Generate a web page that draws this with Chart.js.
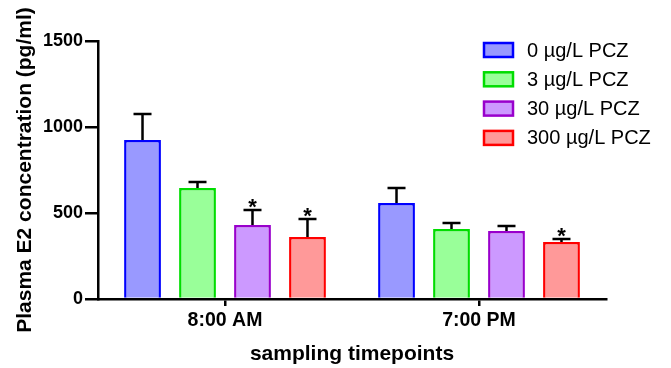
<!DOCTYPE html>
<html>
<head>
<meta charset="utf-8">
<script src="https://cdn.jsdelivr.net/npm/chart.js@4/dist/chart.umd.min.js"></script>
<style>
  body { margin: 0; background: #fff; }
  #wrap { width: 671px; height: 368px; }
</style>
</head>
<body>
<div id="wrap"><canvas id="chart" width="671" height="368"></canvas></div>
<script>
// data
const timepoints = ["8:00 AM", "7:00 PM"];
const doseLabels = ["0 µg/L PCZ", "3 µg/L PCZ", "30 µg/L PCZ", "300 µg/L PCZ"];
const dose0 = [924, 558];
const dose3 = [645, 407];
const dose30 = [430, 395];
const dose300 = [360, 331];
const dose0Err = [151, 87];
const dose3Err = [35, 35];
const dose30Err = [87, 29];
const dose300Err = [105, 18];
const dose0Sig = ["", ""];
const dose3Sig = ["", ""];
const dose30Sig = ["*", ""];
const dose300Sig = ["*", "*"];
const yTicks = [0, 500, 1000, 1500];

const fills = ["#9999ff", "#99ff99", "#cc99ff", "#ff9999"];
const borders = ["#0000ff", "#00dd00", "#9900cc", "#ff0000"];
const values = [dose0, dose3, dose30, dose300];
const errs = [dose0Err, dose3Err, dose30Err, dose300Err];
const sigs = [dose0Sig, dose3Sig, dose30Sig, dose300Sig];

Chart.defaults.font.family = "'Liberation Sans', Arial, sans-serif";
Chart.defaults.color = "#000";

// error bars + asterisks on top of the bars
const errorBars = {
  id: "errorBars",
  afterDatasetsDraw(chart) {
    const ctx = chart.ctx;
    const y = chart.scales.y;
    ctx.save();
    ctx.strokeStyle = "#000";
    ctx.lineWidth = 2.5;
    chart.data.datasets.forEach((ds, i) => {
      const meta = chart.getDatasetMeta(i);
      meta.data.forEach((bar, j) => {
        const top = y.getPixelForValue(ds.data[j] + errs[i][j]);
        ctx.beginPath();
        ctx.moveTo(bar.x, bar.y);
        ctx.lineTo(bar.x, top);
        ctx.moveTo(bar.x - 9, top);
        ctx.lineTo(bar.x + 9, top);
        ctx.stroke();
        if (sigs[i][j]) {
          ctx.fillStyle = "#000";
          ctx.font = "bold 22px 'Liberation Sans', Arial";
          ctx.textAlign = "center";
          ctx.textBaseline = "alphabetic";
          ctx.fillText(sigs[i][j], bar.x, top + 4);
        }
      });
    });
    ctx.restore();
  }
};

// legend drawn at the upper right like the original
const sideLegend = {
  id: "sideLegend",
  afterDraw(chart) {
    const ctx = chart.ctx;
    ctx.save();
    chart.data.datasets.forEach((ds, i) => {
      const cy = 50 + i * 29.3;
      ctx.fillStyle = ds.backgroundColor;
      ctx.strokeStyle = ds.borderColor;
      ctx.lineWidth = 2.5;
      ctx.fillRect(484, cy - 7, 29, 14);
      ctx.strokeRect(484, cy - 7, 29, 14);
      ctx.fillStyle = "#000";
      ctx.font = "20px 'Liberation Sans', Arial";
      ctx.textAlign = "left";
      ctx.textBaseline = "middle";
      ctx.fillText(ds.label, 527, cy + 1);
    });
    ctx.restore();
  }
};

new Chart(document.getElementById("chart"), {
  type: "bar",
  data: {
    labels: timepoints,
    datasets: doseLabels.map((label, i) => ({
      label: label,
      data: values[i],
      backgroundColor: fills[i],
      borderColor: borders[i],
      borderWidth: 2.5,
      barPercentage: 0.67,
      categoryPercentage: 0.866,
    })),
  },
  options: {
    responsive: false,
    animation: false,
    devicePixelRatio: 1,
    layout: { padding: { left: 0, right: 65, top: 41, bottom: 0 } },
    plugins: {
      legend: { display: false },
      tooltip: { enabled: false },
    },
    scales: {
      x: {
        grid: {
          offset: false,
          drawOnChartArea: false,
          drawTicks: true,
          tickLength: 7,
          color: "#000",
          lineWidth: 2.5,
        },
        border: { display: true, color: "#000", width: 2.5 },
        ticks: { font: { size: 19.5, weight: "bold" }, padding: 3 },
        title: {
          display: true,
          text: "sampling timepoints",
          font: { size: 21, weight: "bold" },
          padding: { top: 0, bottom: 1 },
        },
        afterFit(scale) { scale.height = 69; },
      },
      y: {
        min: 0,
        max: 1500,
        afterBuildTicks(scale) { scale.ticks = yTicks.map(v => ({ value: v })); },
        grid: {
          drawOnChartArea: false,
          drawTicks: true,
          tickLength: 13,
          color: "#000",
          lineWidth: 2.5,
        },
        border: { display: true, color: "#000", width: 2.5 },
        ticks: {
          font: { size: 18, weight: "bold" },
          padding: 2,
          callback: (v) => String(v),
        },
        title: {
          display: true,
          text: "Plasma E2 concentration (pg/ml)",
          font: { size: 21, weight: "bold" },
          padding: { top: 13, bottom: 0 },
        },
        afterFit(scale) { scale.width = 98; },
      },
    },
  },
  plugins: [errorBars, sideLegend],
});
</script>
</body>
</html>
